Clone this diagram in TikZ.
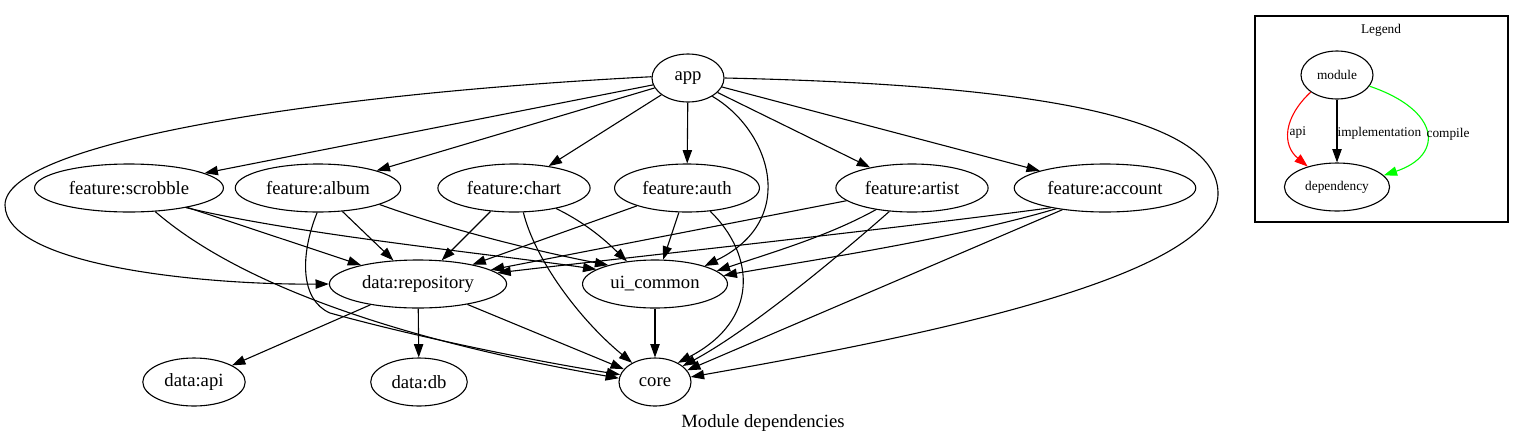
\documentclass[tikz,border=0pt]{standalone}
\usepackage{fontspec}
\setmainfont{Liberation Serif}
\usetikzlibrary{shapes.geometric,arrows.meta}
\newlength{\du}
\setlength{\du}{0.75pt}
\definecolor{apicolor}{rgb}{1.000000, 0.000000, 0.000000}
\definecolor{compilecolor}{rgb}{0.000000, 1.000000, 0.000000}
\tikzset{
  modnode/.style={draw, ellipse, line width=1.1\du, minimum width=54pt, minimum height=36pt,
    inner xsep=5pt, inner ysep=0pt, font=\fontsize{14pt}{16pt}\selectfont},
  legendnode/.style={modnode, inner xsep=4pt, font=\fontsize{10pt}{12pt}\selectfont},
  depedge/.style={line width=1.1\du, -{Triangle[length=10pt,width=7pt]}},
  edgelabel/.style={anchor=west, inner sep=0pt, yshift=-1.5pt, text=black, font=\fontsize{10pt}{12pt}\selectfont},
}

\begin{document}
\begin{tikzpicture}[x=1\du, y=1\du]
\pgftransformyscale{-1.000000}
\useasboundingbox (0,0) rectangle (1525,444);
% modules
\node[modnode] (app) at (688,78) {app};
\node[modnode] (fscrobble) at (129,188) {feature:scrobble};
\node[modnode] (falbum) at (318,188) {feature:album};
\node[modnode] (fchart) at (514,188) {feature:chart};
\node[modnode] (fauth) at (687,188) {feature:auth};
\node[modnode] (fartist) at (912,188) {feature:artist};
\node[modnode] (faccount) at (1105,188) {feature:account};
\node[modnode] (datarepo) at (418,284) {data:repository};
\node[modnode] (uicommon) at (655,284) {ui\_common};
\node[modnode] (dataapi) at (194,382) {data:api};
\node[modnode] (datadb) at (419,382) {data:db};
\node[modnode] (core) at (655,382) {core};
% app
\draw[depedge] (app) -- (fscrobble);
\draw[depedge] (app) -- (falbum);
\draw[depedge] (app) -- (fchart);
\draw[depedge] (app) -- (fauth);
\draw[depedge] (app) -- (fartist);
\draw[depedge] (app) -- (faccount);
\draw[depedge] (app.178) .. controls (300,95) and (5,145) .. (5,205)
  .. controls (5,265) and (200,285) .. (datarepo.west);
\draw[depedge] (app.-37) .. controls (770,130) and (800,220) .. (uicommon.20);
\draw[depedge] (app.east) .. controls (1050,85) and (1220,120) .. (1218,195)
  .. controls (1215,280) and (900,340) .. (core.8);
% features
\draw[depedge] (fscrobble) -- (datarepo);
\draw[depedge] (fscrobble.-19) .. controls (300,235) and (500,255) .. (uicommon.166);
\draw[depedge] (fscrobble.-42) .. controls (240,285) and (400,340) .. (core.174);
\draw[depedge] (falbum) -- (datarepo);
\draw[depedge] (falbum.-15) .. controls (450,230) and (540,252) .. (uicommon.158);
\draw[depedge] (falbum.-92) .. controls (300,255) and (300,300) .. (330,313)
  .. controls (420,338) and (540,362) .. (core.168);
\draw[depedge] (fchart) -- (datarepo);
\draw[depedge] (fchart.-26) .. controls (590,225) and (610,245) .. (uicommon.141);
\draw[depedge] (fchart.-69) .. controls (535,260) and (580,320) .. (core.140);
\draw[depedge] (fauth) -- (datarepo);
\draw[depedge] (fauth) -- (uicommon);
\draw[depedge] (fauth.-45) .. controls (755,255) and (760,320) .. (core.40);
\draw[depedge] (fartist) -- (datarepo);
\draw[depedge] (fartist.211) .. controls (830,235) and (780,250) .. (uicommon.12);
\draw[depedge] (fartist.226) .. controls (840,255) and (750,330) .. (core.30);
\draw[depedge] (faccount.200) .. controls (900,228) and (650,255) .. (datarepo.8);
\draw[depedge] (faccount.203) .. controls (950,240) and (800,262) .. (uicommon.7);
\draw[depedge] (faccount.207) -- (core.20);
% data layer
\draw[depedge] (datarepo) -- (dataapi);
\draw[depedge] (datarepo) -- (datadb);
\draw[depedge] (datarepo) -- (core);
\draw[depedge] (uicommon) -- (core);
\node[font=\fontsize{14pt}{16pt}\selectfont] (caption) at (763,423) {Module dependencies};
% legend
\draw[line width=1.1\du] (1255,16) rectangle (1508,222);
\node[font=\fontsize{10pt}{12pt}\selectfont] (legendtitle) at (1381,30) {Legend};
\node[legendnode] (lmodule) at (1337,75) {module};
\node[legendnode] (ldependency) at (1337,187) {dependency};
\draw[depedge, draw=apicolor] (lmodule.213) .. controls (1283,118) and (1282,145) .. (ldependency.145)
  node[edgelabel, pos=0.5] (lapi) {api};
\draw[depedge] (lmodule) -- (ldependency)
  node[edgelabel, pos=0.5] (limpl) {implementation};
\draw[depedge, draw=compilecolor] (lmodule.-19) .. controls (1440,110) and (1445,155) .. (ldependency.14)
  node[edgelabel, pos=0.5] (lcompile) {compile};
\end{tikzpicture}
\end{document}
